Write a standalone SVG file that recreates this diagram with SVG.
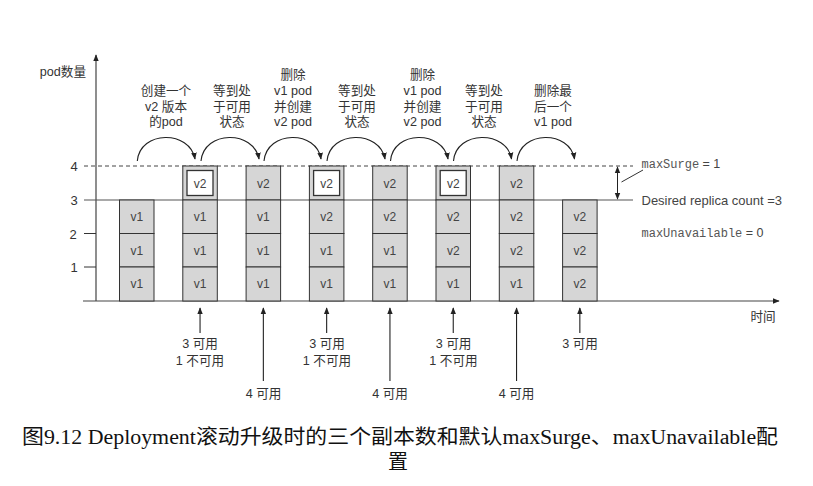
<svg xmlns="http://www.w3.org/2000/svg" width="813" height="486" viewBox="0 0 813 486">
<style>
.cell{fill:#d6d6d6;stroke:#333;stroke-width:1}
.inner{fill:#fff;stroke:#333;stroke-width:1.3}
.ct{font-family:"Liberation Sans","Noto Sans CJK SC",sans-serif;font-size:12px;fill:#444;text-anchor:middle}
.lbl{font-family:"Liberation Sans","Noto Sans CJK SC",sans-serif;font-size:12.6px;fill:#333;text-anchor:middle}
.tick{font-family:"Liberation Sans",sans-serif;font-size:13px;fill:#333;text-anchor:middle}
.mono{font-family:"Liberation Mono",monospace;font-size:12px;fill:#555}
.sans{font-family:"Liberation Sans",sans-serif;font-size:12.5px;fill:#444}
.ax{stroke:#444;stroke-width:1.2;fill:none}
.arc{stroke:#222;stroke-width:1.1;fill:none;marker-end:url(#ah)}
.up{stroke:#222;stroke-width:1.1;fill:none;marker-end:url(#ah)}
.cap{font-family:"Liberation Serif","Noto Sans CJK SC",serif;font-size:20px;fill:#111}
</style>
<defs>
<marker id="ah" viewBox="0 0 10 10" refX="9" refY="5" markerWidth="7" markerHeight="7" orient="auto" markerUnits="userSpaceOnUse">
<path d="M0,1 L10,5 L0,9 Z" fill="#222"/>
</marker>
<marker id="ahd" viewBox="0 0 10 10" refX="9" refY="5" markerWidth="7" markerHeight="7" orient="auto-start-reverse" markerUnits="userSpaceOnUse">
<path d="M0,1 L10,5 L0,9 Z" fill="#222"/>
</marker>
</defs>

<g id="axes">
<line class="ax" x1="96" y1="301" x2="96" y2="55" marker-end="url(#ah)"/>
<line class="ax" x1="83" y1="301" x2="779" y2="301" marker-end="url(#ah)"/>
<line x1="84" y1="166" x2="633" y2="166" stroke="#444" stroke-width="1" stroke-dasharray="4,3"/>
<line x1="84" y1="200" x2="633" y2="200" stroke="#555" stroke-width="1.2"/>
<line x1="84" y1="233.5" x2="96" y2="233.5" stroke="#333" stroke-width="1"/>
<line x1="84" y1="267" x2="96" y2="267" stroke="#333" stroke-width="1"/>
<text class="tick" x="74" y="171">4</text>
<text class="tick" x="74" y="205">3</text>
<text class="tick" x="73" y="238.5">2</text>
<text class="tick" x="74" y="272">1</text>
<text class="lbl" x="86" y="76" style="text-anchor:end">pod数量</text>
<text class="lbl" x="763" y="321">时间</text>
</g>

<g id="col1">
<rect class="cell" x="119.5" y="200" width="34.5" height="33.5"/><text class="ct" x="136.75" y="221">v1</text>
<rect class="cell" x="119.5" y="233.5" width="34.5" height="33.5"/><text class="ct" x="136.75" y="254.5">v1</text>
<rect class="cell" x="119.5" y="267" width="34.5" height="34"/><text class="ct" x="136.75" y="288">v1</text>
</g>
<g id="col2">
<rect class="cell" x="182.8" y="166" width="34.5" height="34"/><rect class="inner" x="187" y="170.5" width="26" height="25"/><text class="ct" x="200.05" y="187.5">v2</text>
<rect class="cell" x="182.8" y="200" width="34.5" height="33.5"/><text class="ct" x="200.05" y="221">v1</text>
<rect class="cell" x="182.8" y="233.5" width="34.5" height="33.5"/><text class="ct" x="200.05" y="254.5">v1</text>
<rect class="cell" x="182.8" y="267" width="34.5" height="34"/><text class="ct" x="200.05" y="288">v1</text>
</g>
<g id="col3">
<rect class="cell" x="246.1" y="166" width="34.5" height="34"/><text class="ct" x="263.35" y="187.5">v2</text>
<rect class="cell" x="246.1" y="200" width="34.5" height="33.5"/><text class="ct" x="263.35" y="221">v1</text>
<rect class="cell" x="246.1" y="233.5" width="34.5" height="33.5"/><text class="ct" x="263.35" y="254.5">v1</text>
<rect class="cell" x="246.1" y="267" width="34.5" height="34"/><text class="ct" x="263.35" y="288">v1</text>
</g>
<g id="col4">
<rect class="cell" x="309.4" y="166" width="34.5" height="34"/><rect class="inner" x="313.6" y="170.5" width="26" height="25"/><text class="ct" x="326.65" y="187.5">v2</text>
<rect class="cell" x="309.4" y="200" width="34.5" height="33.5"/><text class="ct" x="326.65" y="221">v2</text>
<rect class="cell" x="309.4" y="233.5" width="34.5" height="33.5"/><text class="ct" x="326.65" y="254.5">v1</text>
<rect class="cell" x="309.4" y="267" width="34.5" height="34"/><text class="ct" x="326.65" y="288">v1</text>
</g>
<g id="col5">
<rect class="cell" x="372.7" y="166" width="34.5" height="34"/><text class="ct" x="389.95" y="187.5">v2</text>
<rect class="cell" x="372.7" y="200" width="34.5" height="33.5"/><text class="ct" x="389.95" y="221">v2</text>
<rect class="cell" x="372.7" y="233.5" width="34.5" height="33.5"/><text class="ct" x="389.95" y="254.5">v1</text>
<rect class="cell" x="372.7" y="267" width="34.5" height="34"/><text class="ct" x="389.95" y="288">v1</text>
</g>
<g id="col6">
<rect class="cell" x="436" y="166" width="34.5" height="34"/><rect class="inner" x="440.2" y="170.5" width="26" height="25"/><text class="ct" x="453.25" y="187.5">v2</text>
<rect class="cell" x="436" y="200" width="34.5" height="33.5"/><text class="ct" x="453.25" y="221">v2</text>
<rect class="cell" x="436" y="233.5" width="34.5" height="33.5"/><text class="ct" x="453.25" y="254.5">v2</text>
<rect class="cell" x="436" y="267" width="34.5" height="34"/><text class="ct" x="453.25" y="288">v1</text>
</g>
<g id="col7">
<rect class="cell" x="499.3" y="166" width="34.5" height="34"/><text class="ct" x="516.55" y="187.5">v2</text>
<rect class="cell" x="499.3" y="200" width="34.5" height="33.5"/><text class="ct" x="516.55" y="221">v2</text>
<rect class="cell" x="499.3" y="233.5" width="34.5" height="33.5"/><text class="ct" x="516.55" y="254.5">v2</text>
<rect class="cell" x="499.3" y="267" width="34.5" height="34"/><text class="ct" x="516.55" y="288">v1</text>
</g>
<g id="col8">
<rect class="cell" x="562.6" y="200" width="34.5" height="33.5"/><text class="ct" x="579.85" y="221">v2</text>
<rect class="cell" x="562.6" y="233.5" width="34.5" height="33.5"/><text class="ct" x="579.85" y="254.5">v2</text>
<rect class="cell" x="562.6" y="267" width="34.5" height="34"/><text class="ct" x="579.85" y="288">v2</text>
</g>

<g id="connectors">
<path class="arc" d="M137.3,161 C140,130 190,130 195,159"/>
<path class="arc" d="M201,161 C204,130 254,130 259,159"/>
<path class="arc" d="M264,161 C267,130 317,130 321,159"/>
<path class="arc" d="M327,161 C330,130 380,130 385,159"/>
<path class="arc" d="M390.5,161 C393,130 443,130 448,159"/>
<path class="arc" d="M453.5,161 C456,130 507,130 511.5,159"/>
<path class="arc" d="M517,161 C520,130 570,130 574.5,159"/>
<line class="up" x1="200.05" y1="333" x2="200.05" y2="308"/>
<line class="up" x1="263.35" y1="381" x2="263.35" y2="308"/>
<line class="up" x1="326.65" y1="333" x2="326.65" y2="308"/>
<line class="up" x1="389.95" y1="381" x2="389.95" y2="308"/>
<line class="up" x1="453.25" y1="333" x2="453.25" y2="308"/>
<line class="up" x1="516.55" y1="381" x2="516.55" y2="308"/>
<line class="up" x1="579.85" y1="333" x2="579.85" y2="308"/>
<line x1="617.5" y1="167" x2="617.5" y2="199" stroke="#222" stroke-width="1" marker-start="url(#ahd)" marker-end="url(#ahd)"/>
<line x1="621.5" y1="182" x2="643" y2="170" stroke="#333" stroke-width="1"/>
</g>

<g id="step-labels">
<text class="lbl" x="166" y="95">创建一个</text>
<text class="lbl" x="166" y="110.5">v2 版本</text>
<text class="lbl" x="166" y="125.5">的pod</text>
<text class="lbl" x="232" y="95">等到处</text>
<text class="lbl" x="232" y="110.5">于可用</text>
<text class="lbl" x="232" y="125.5">状态</text>
<text class="lbl" x="293" y="79">删除</text>
<text class="lbl" x="293" y="95">v1 pod</text>
<text class="lbl" x="293" y="110.5">并创建</text>
<text class="lbl" x="293" y="125.5">v2 pod</text>
<text class="lbl" x="357" y="95">等到处</text>
<text class="lbl" x="357" y="110.5">于可用</text>
<text class="lbl" x="357" y="125.5">状态</text>
<text class="lbl" x="422.5" y="79">删除</text>
<text class="lbl" x="422.5" y="95">v1 pod</text>
<text class="lbl" x="422.5" y="110.5">并创建</text>
<text class="lbl" x="422.5" y="125.5">v2 pod</text>
<text class="lbl" x="484" y="95">等到处</text>
<text class="lbl" x="484" y="110.5">于可用</text>
<text class="lbl" x="484" y="125.5">状态</text>
<text class="lbl" x="553" y="95">删除最</text>
<text class="lbl" x="553" y="110.5">后一个</text>
<text class="lbl" x="553" y="125.5">v1 pod</text>
</g>

<g id="avail-labels">
<text class="lbl" x="200" y="348">3 可用</text>
<text class="lbl" x="200" y="365">1 不可用</text>
<text class="lbl" x="263.5" y="397.5">4 可用</text>
<text class="lbl" x="327" y="348">3 可用</text>
<text class="lbl" x="327" y="365">1 不可用</text>
<text class="lbl" x="390" y="397.5">4 可用</text>
<text class="lbl" x="453.5" y="348">3 可用</text>
<text class="lbl" x="453.5" y="365">1 不可用</text>
<text class="lbl" x="516.5" y="397.5">4 可用</text>
<text class="lbl" x="580" y="348">3 可用</text>
</g>

<g id="params">
<text x="641.5" y="167.5"><tspan class="mono">maxSurge</tspan><tspan class="sans"> = 1</tspan></text>
<text class="sans" x="641.5" y="205" style="font-size:13px">Desired replica count =3</text>
<text x="641.5" y="236.5"><tspan class="mono">maxUnavailable</tspan><tspan class="sans"> = 0</tspan></text>
</g>

<g id="caption">
<text class="cap" x="22" y="444" textLength="756" lengthAdjust="spacingAndGlyphs">图9.12 Deployment滚动升级时的三个副本数和默认maxSurge、maxUnavailable配</text>
<text class="cap" x="398" y="469" text-anchor="middle">置</text>
</g>
</svg>
